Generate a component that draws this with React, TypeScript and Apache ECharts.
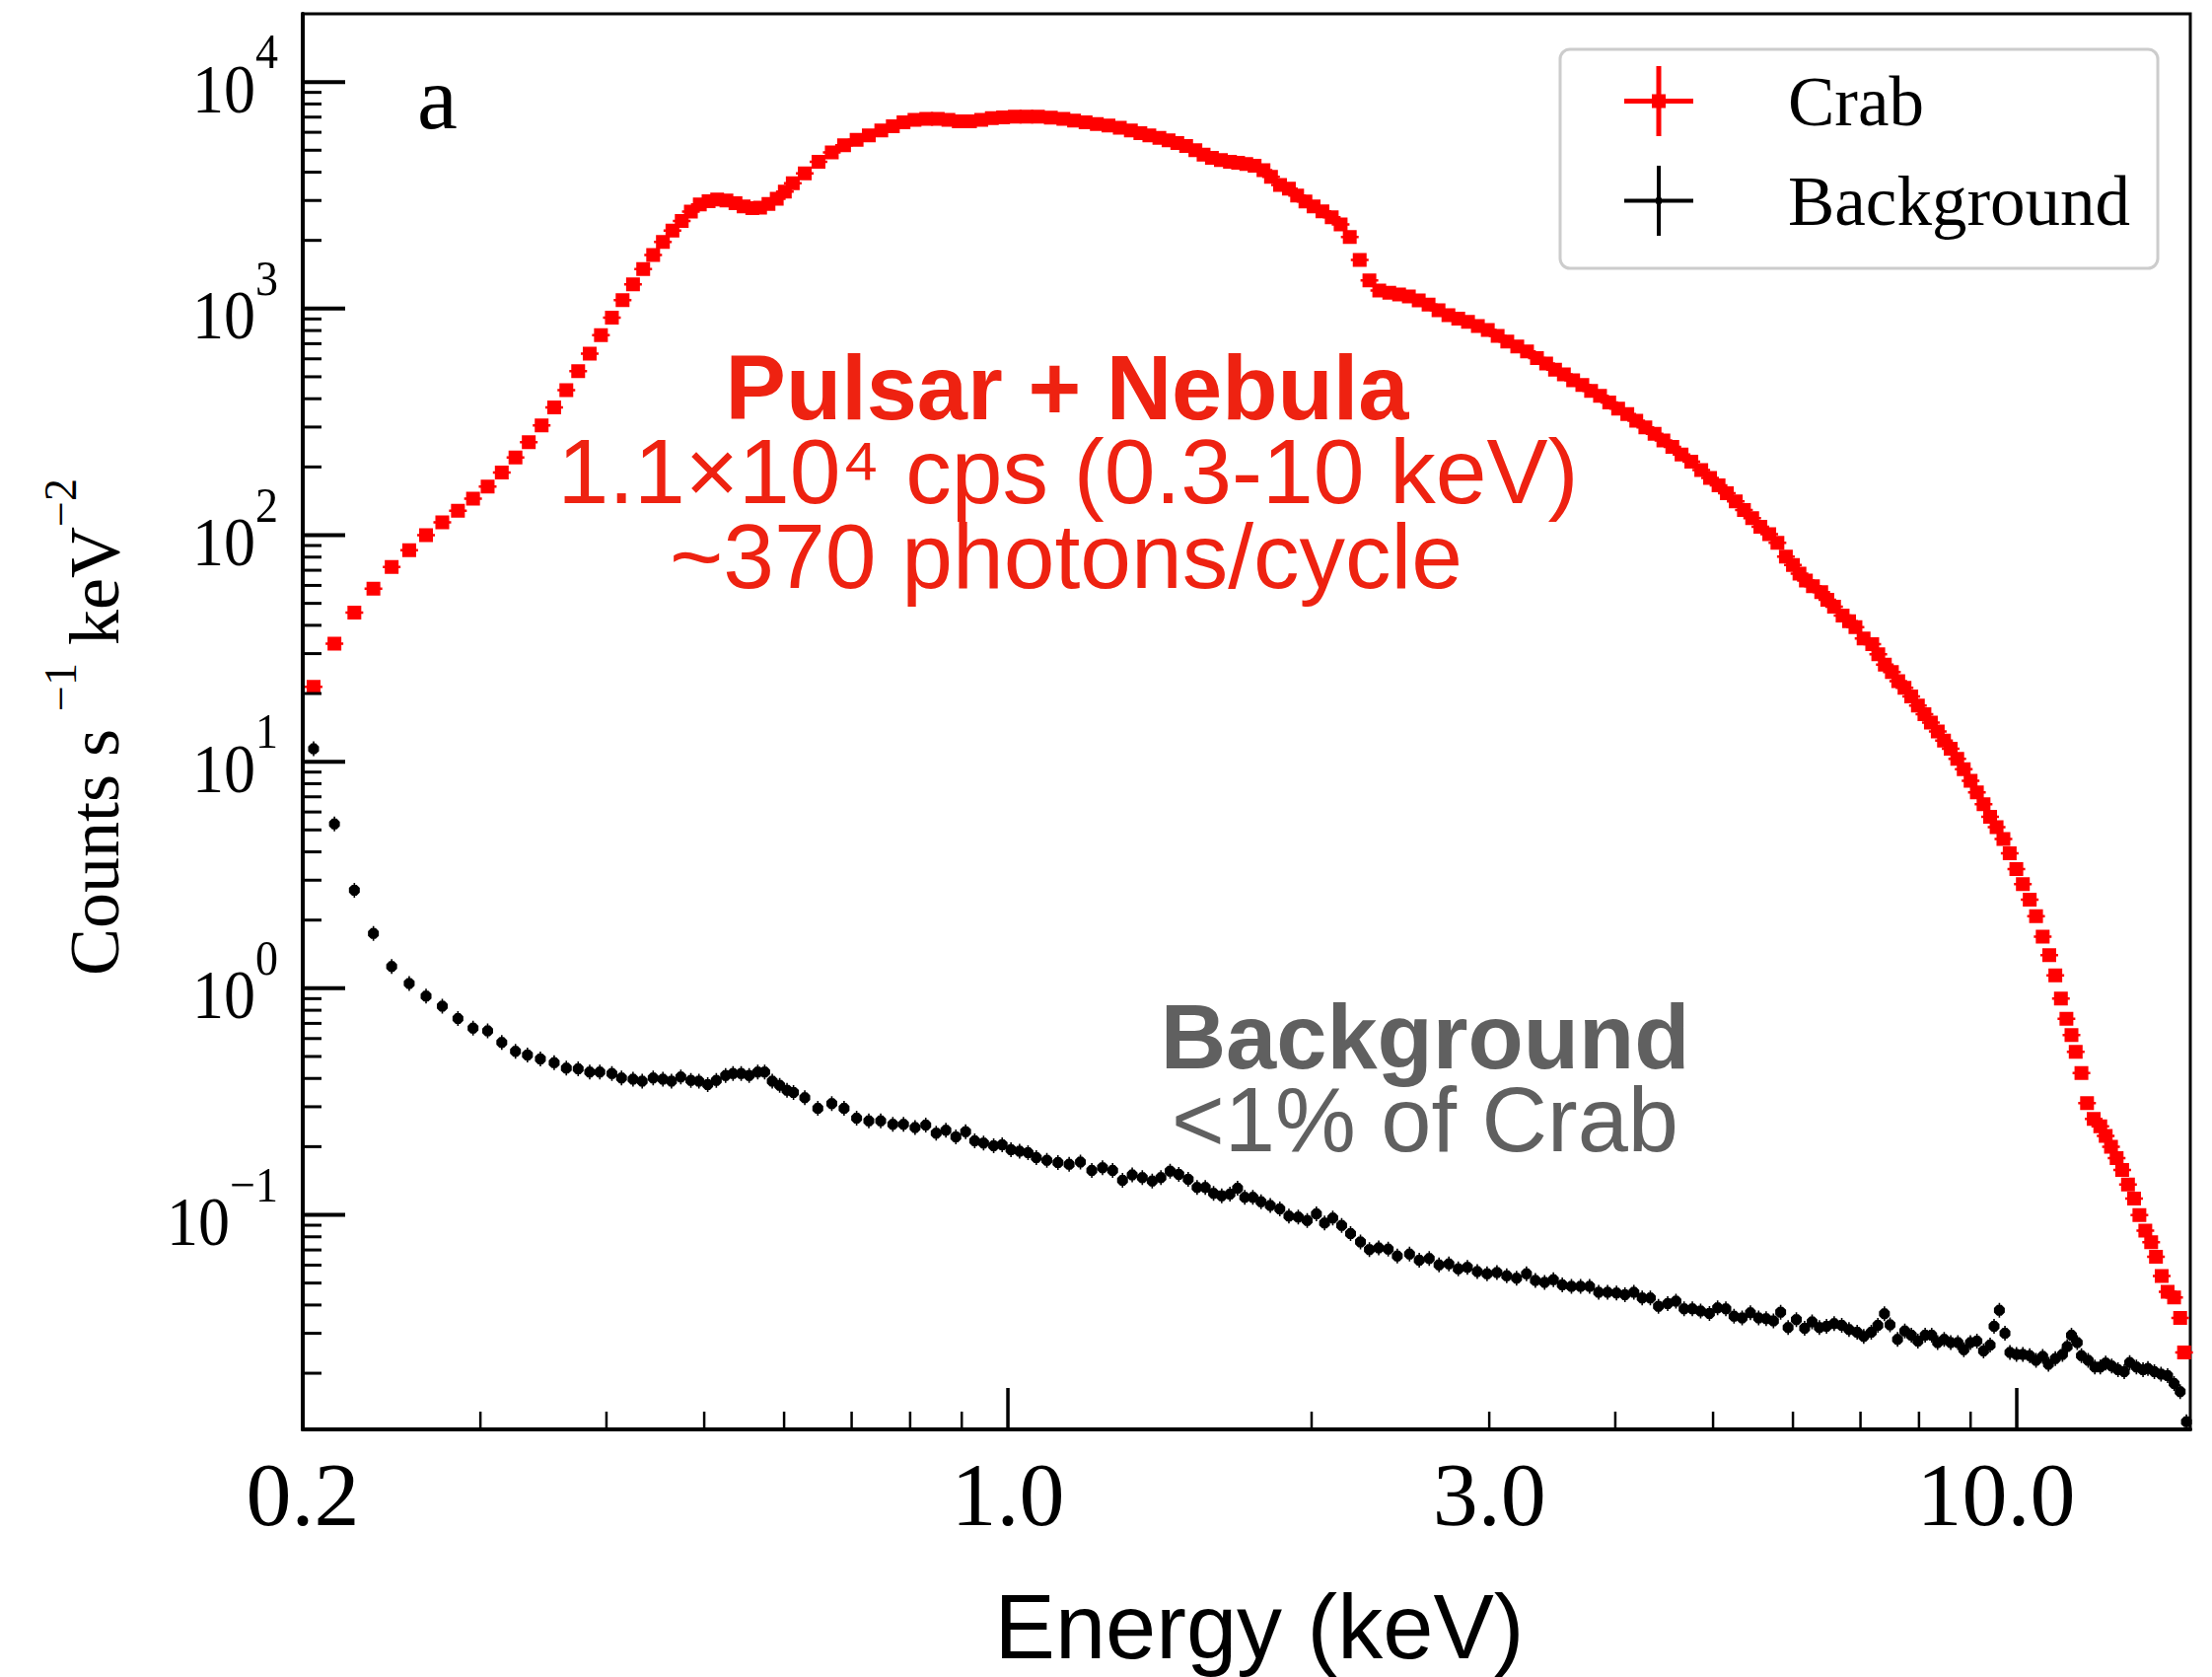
import React, { useEffect, useRef } from 'react';
import * as echarts from 'echarts';

// ---------- data ----------
const crabEnergy = [
  0.205, 0.215, 0.225, 0.235, 0.245, 0.255, 0.265, 0.275, 0.285, 0.295,
  0.305, 0.315, 0.325, 0.335, 0.345, 0.355, 0.365, 0.375, 0.385, 0.395,
  0.405, 0.415, 0.425, 0.435, 0.445, 0.455, 0.465, 0.475, 0.485, 0.495,
  0.505, 0.515, 0.526, 0.537, 0.547, 0.558, 0.568, 0.579, 0.590, 0.601,
  0.612, 0.629, 0.649, 0.669, 0.688, 0.708, 0.728, 0.749, 0.769, 0.788,
  0.808, 0.830, 0.852, 0.873, 0.894, 0.917, 0.941, 0.964, 0.989, 1.016,
  1.043, 1.071, 1.103, 1.135, 1.163, 1.194, 1.225, 1.258, 1.291, 1.324,
  1.353, 1.381, 1.413, 1.443, 1.472, 1.502, 1.534, 1.563, 1.593, 1.626,
  1.660, 1.691, 1.723, 1.756, 1.792, 1.823, 1.861,
  1.899, 1.935, 1.972, 2.009, 2.050, 2.094, 2.137, 2.182, 2.232, 2.282,
  2.334, 2.388, 2.442, 2.497, 2.554, 2.612, 2.672, 2.733, 2.795, 2.858,
  2.923, 2.990, 3.058, 3.126, 3.198, 3.270, 3.345, 3.416, 3.486, 3.557,
  3.633, 3.710, 3.785, 3.863, 3.945, 4.026, 4.111, 4.196, 4.284, 4.375,
  4.464, 4.556, 4.653, 4.758, 4.867, 4.966, 5.063, 5.160, 5.266, 5.365,
  5.467, 5.570, 5.684, 5.791,
  5.904, 6.00, 6.09, 6.18, 6.28, 6.40, 6.49, 6.59, 6.72, 6.82,
  6.92, 7.05, 7.19, 7.29, 7.40, 7.52, 7.63, 7.74, 7.86, 7.98,
  8.10, 8.22, 8.35, 8.47, 8.60, 8.73, 8.86, 9.00, 9.13, 9.27,
  9.41, 9.55, 9.70, 9.84, 9.99, 10.14, 10.30, 10.45, 10.61, 10.77,
  10.92, 11.06, 11.20, 11.33, 11.44, 11.59, 11.74, 11.92, 12.10, 12.25,
  12.40, 12.56, 12.72, 12.89, 13.07, 13.23, 13.41, 13.59, 13.74, 13.92,
  14.11, 14.32, 14.52, 14.65,
];
const crabCounts = [
  21.4, 33.2, 45.5, 58, 72.4, 85.8, 100, 114, 128, 145,
  164, 189, 220, 257, 305, 366, 437, 529, 632, 764,
  912, 1090, 1280, 1493, 1722, 1968, 2208, 2438, 2680, 2878,
  2979, 3027, 3000, 2918, 2825, 2775, 2792, 2897, 3055, 3281,
  3573, 3954, 4449, 4888, 5255, 5560, 5806, 6109, 6380, 6646,
  6806, 6873, 6873, 6806, 6708, 6708, 6806, 6920, 6985, 7025,
  7040, 7025, 6966, 6873, 6761, 6646, 6530, 6420, 6280, 6109,
  5946, 5806, 5675, 5523, 5378, 5220, 5000, 4786, 4627, 4520,
  4449, 4400, 4345, 4266, 4087, 3820, 3515,
  3380, 3150, 2970, 2826, 2687, 2529, 2350, 2069, 1638, 1330,
  1203, 1175, 1155, 1132, 1088, 1041, 983, 935, 904, 874,
  837, 804, 757, 716, 681, 647, 605, 572, 538, 512,
  483, 460, 433, 412, 385, 362, 342, 320, 299, 280,
  262, 245, 227, 211, 194, 179, 166, 153, 141, 129,
  119, 109, 101, 92.5,
  80.5, 73.9, 67.7, 63.0, 59.5, 56.1, 51.9, 48.3, 44.2, 41.7,
  39.3, 35.0, 33.0, 29.8, 26.8, 24.9, 22.7, 21.2, 19.4, 17.7,
  16.2, 14.9, 13.6, 12.4, 11.4, 10.3, 9.27, 8.24, 7.33, 6.50,
  5.71, 5.14, 4.56, 3.94, 3.36, 2.88, 2.46, 2.08, 1.69, 1.40,
  1.14, 0.90, 0.733, 0.621, 0.524, 0.423, 0.311, 0.265, 0.246, 0.223,
  0.200, 0.178, 0.158, 0.136, 0.118, 0.0998, 0.0851, 0.0757, 0.0653, 0.0537,
  0.0458, 0.0432, 0.0351, 0.0247,
];

const bgEnergy = [
  0.205, 0.215, 0.225, 0.235, 0.245, 0.255, 0.265, 0.275, 0.285, 0.295,
  0.305, 0.315, 0.325, 0.334, 0.344, 0.355, 0.365, 0.375, 0.385, 0.394,
  0.405, 0.414, 0.425, 0.434, 0.445, 0.455, 0.464, 0.474, 0.485, 0.494,
  0.504, 0.514, 0.525, 0.534, 0.544, 0.554, 0.565, 0.574, 0.584, 0.594,
  0.604, 0.613, 0.629, 0.648, 0.669, 0.688, 0.708, 0.728, 0.748, 0.769,
  0.788, 0.809,
  0.829, 0.849, 0.868, 0.888, 0.908, 0.927, 0.946, 0.968, 0.987, 1.007,
  1.027, 1.047, 1.067, 1.093, 1.121, 1.150, 1.180, 1.211, 1.241, 1.270,
  1.299, 1.328, 1.359, 1.390, 1.418, 1.448, 1.477, 1.509, 1.540, 1.569,
  1.599, 1.629, 1.660, 1.689, 1.717, 1.749, 1.782, 1.820, 1.860, 1.899,
  1.940, 1.980, 2.022, 2.060, 2.099, 2.142, 2.186, 2.236, 2.282, 2.331,
  2.382, 2.432,
  2.501, 2.557, 2.616, 2.675, 2.736, 2.795, 2.854, 2.919, 2.985, 3.053,
  3.122, 3.193, 3.266, 3.333, 3.404, 3.473, 3.544, 3.619, 3.695, 3.772,
  3.851, 3.930, 4.011, 4.089, 4.173, 4.253, 4.333, 4.414, 4.508, 4.594,
  4.680, 4.769, 4.860, 4.959, 5.052, 5.148, 5.245, 5.343, 5.445, 5.548,
  5.644, 5.739, 5.834, 5.934,
  6.047, 6.162, 6.268, 6.373, 6.478, 6.592, 6.707, 6.819, 6.947, 7.052,
  7.174, 7.283, 7.393, 7.488, 7.618, 7.745, 7.862, 7.980, 8.113, 8.235,
  8.347, 8.473, 8.601, 8.743, 8.862, 8.996, 9.131, 9.270, 9.410, 9.495,
  9.611, 9.734, 9.845, 9.993, 10.14, 10.30, 10.45, 10.61, 10.75, 10.92,
  11.10, 11.22, 11.33, 11.48, 11.59, 11.77, 11.95, 12.10, 12.25, 12.42,
  12.60, 12.78, 12.94, 13.14, 13.34, 13.49, 13.69, 13.90, 14.11, 14.32,
  14.52, 14.73,
];
const bgCounts = [
  11.4, 5.31, 2.71, 1.744, 1.248, 1.051, 0.923, 0.834, 0.735, 0.667,
  0.649, 0.577, 0.527, 0.508, 0.488, 0.469, 0.444, 0.441, 0.427, 0.427,
  0.420, 0.402, 0.397, 0.389, 0.402, 0.397, 0.389, 0.406, 0.392, 0.389,
  0.376, 0.392, 0.412, 0.420, 0.420, 0.412, 0.427, 0.427, 0.389, 0.373,
  0.355, 0.347, 0.329, 0.295, 0.310, 0.295, 0.267, 0.260, 0.260, 0.251,
  0.251, 0.243,
  0.249, 0.2295, 0.236, 0.221, 0.233, 0.212, 0.2075, 0.202, 0.204, 0.194,
  0.191, 0.188, 0.179, 0.174, 0.170, 0.167, 0.171, 0.157, 0.1616, 0.157,
  0.142, 0.150, 0.146, 0.141, 0.146, 0.156, 0.151, 0.1436, 0.132, 0.132,
  0.1244, 0.1214, 0.1235, 0.131, 0.1195, 0.1195, 0.1143, 0.1099, 0.1062, 0.0987,
  0.0977, 0.0944, 0.1009, 0.092, 0.0968, 0.0898, 0.0826, 0.076, 0.0703, 0.0715,
  0.0706, 0.0658,
  0.0671, 0.0631, 0.0642, 0.0601, 0.0607, 0.0577, 0.0587, 0.0562, 0.0549, 0.0557,
  0.0538, 0.0525, 0.0549, 0.0513, 0.0503, 0.0517, 0.0491, 0.0483, 0.0483, 0.0483,
  0.0455, 0.0455, 0.0452, 0.0444, 0.0455, 0.0430, 0.0430, 0.0395, 0.0406, 0.0416,
  0.0385, 0.0385, 0.0376, 0.0367, 0.0389, 0.0385, 0.0357, 0.0351, 0.0370, 0.0351,
  0.0348, 0.0340, 0.0372, 0.0318,
  0.0345, 0.0316, 0.0337, 0.0318, 0.0322, 0.0331, 0.0325, 0.0312, 0.0303, 0.0291,
  0.0303, 0.0325, 0.0366, 0.0327, 0.0282, 0.0307, 0.0294, 0.0277, 0.0294, 0.0294,
  0.0273, 0.0282, 0.0273, 0.0273, 0.0254, 0.0273, 0.0277, 0.0251, 0.0266, 0.0322,
  0.0379, 0.0300, 0.0247, 0.0242, 0.0242, 0.0239, 0.0228, 0.0237, 0.0219, 0.0232,
  0.0242, 0.0262, 0.0294, 0.0273, 0.0239, 0.0228, 0.0213, 0.0213, 0.0222, 0.0215,
  0.0207, 0.0203, 0.0223, 0.0213, 0.0207, 0.0210, 0.0203, 0.0198, 0.0195, 0.0180,
  0.0166, 0.0122,
];

const xMajorTicks = [1, 10];
const xMinorTicks = [0.3, 0.4, 0.5, 0.6, 0.7, 0.8, 0.9, 2, 3, 4, 5, 6, 7, 8, 9];
const yMajorTicks = [0.1, 1, 10, 100, 1000, 10000];
const yMinorTicks = [
  0.02, 0.03, 0.04, 0.05, 0.06, 0.07, 0.08, 0.09,
  0.2, 0.3, 0.4, 0.5, 0.6, 0.7, 0.8, 0.9,
  2, 3, 4, 5, 6, 7, 8, 9,
  20, 30, 40, 50, 60, 70, 80, 90,
  200, 300, 400, 500, 600, 700, 800, 900,
  2000, 3000, 4000, 5000, 6000, 7000, 8000, 9000,
];
const xLabelValues = [0.2, 1, 3, 10];
const xLabelTexts = ['0.2', '1.0', '3.0', '10.0'];
const yLabelValues = [0.1, 1, 10, 100, 1000, 10000];
const yLabelExps = ['−1', '0', '1', '2', '3', '4'];

const X_MIN = 0.2;
const X_MAX = 14.86;
const Y_MIN = 0.0113;
const Y_MAX = 20000;

// ---------- styles ----------
const SERIF = 'Liberation Serif';
const SANS = 'Liberation Sans';
const TEXT_RED = '#ee2211';
const TEXT_GREY = '#606060';

const CRAB_SYMBOL = 'path://M2,0H16V14H2Z M0,5.75H18V8.25H0Z';
const BG_SYMBOL = 'path://M3.2,2L7.8,2L11,5.2L11,9.8L7.8,13L3.2,13L0,9.8L0,5.2Z M4.7,0H6.3V15H4.7Z';
const CRAB_ICON = 'path://M32.5,0H37.5V71H32.5Z M0,33H70V38H0Z M28,28.5H42V42.5H28Z';
const BG_ICON = 'path://M33,0H37V71H33Z M0,33.5H70V37.5H0Z M32,32.5H38V38.5H32Z';

function buildOption() {
  const tickData = [
    ...xMinorTicks.map((v) => [v, Y_MIN, 0]),
    ...xMajorTicks.map((v) => [v, Y_MIN, 1]),
    ...yMinorTicks.map((v) => [X_MIN, v, 2]),
    ...yMajorTicks.map((v) => [X_MIN, v, 3]),
  ];
  const labelData = [
    ...xLabelValues.map((v, i) => [v, Y_MIN, 0, i]),
    ...yLabelValues.map((v, i) => [X_MIN, v, 1, i]),
  ];

  const renderTick = (params: any, api: any) => {
    const kind = api.value(2);
    const p = api.coord([api.value(0), api.value(1)]);
    if (kind <= 1) {
      const len = kind === 1 ? 42 : 18;
      return {
        type: 'line',
        shape: { x1: p[0], y1: p[1], x2: p[0], y2: p[1] - len },
        style: { stroke: '#000', lineWidth: kind === 1 ? 3.5 : 2.5 },
      };
    }
    const len = kind === 3 ? 43 : 19;
    return {
      type: 'line',
      shape: { x1: p[0], y1: p[1], x2: p[0] + len, y2: p[1] },
      style: { stroke: '#000', lineWidth: kind === 3 ? 4 : 3 },
    };
  };

  const renderLabel = (params: any, api: any) => {
    const kind = api.value(2);
    const idx = api.value(3);
    const p = api.coord([api.value(0), api.value(1)]);
    if (kind === 0) {
      const dx = idx === xLabelTexts.length - 1 ? -21 : 0;
      return {
        type: 'text',
        x: p[0] + dx,
        y: p[1] + 66,
        style: {
          text: xLabelTexts[idx],
          fontSize: 92,
          fontFamily: SERIF,
          fill: '#000',
          lineHeight: 80,
          align: 'center',
          verticalAlign: 'middle',
          textAlign: 'center',
          textVerticalAlign: 'middle',
        },
      };
    }
    return {
      type: 'text',
      x: p[0] - 25,
      y: p[1] + 7,
      scaleY: 1.1,
      style: {
        text: '{b|10}{s|' + yLabelExps[idx] + '}',
        fill: '#000',
        align: 'right',
        verticalAlign: 'middle',
        textAlign: 'right',
        textVerticalAlign: 'middle',
        rich: {
          b: { fontSize: 64, fontFamily: SERIF, lineHeight: 115, verticalAlign: 'middle', fill: '#000' },
          s: { fontSize: 46, fontFamily: SERIF, lineHeight: 46, verticalAlign: 'top', fill: '#000' },
        },
      },
    };
  };

  const txt = (text: string, x: number, y: number, size: number, weight: string, color: string, family: string, align = 'center') => ({
    type: 'text',
    x,
    y,
    z: 50,
    silent: true,
    style: {
      text,
      fontSize: size,
      fontWeight: weight,
      fontFamily: family,
      fill: color,
      lineHeight: 62,
      align,
      verticalAlign: 'middle',
      textAlign: align,
      textVerticalAlign: 'middle',
    },
  });

  return {
    animation: false,
    backgroundColor: '#ffffff',
    grid: {
      left: 307,
      right: 22,
      top: 14,
      bottom: 250,
      show: true,
      borderColor: '#000',
      borderWidth: 3,
      backgroundColor: 'transparent',
      containLabel: false,
    },
    xAxis: {
      type: 'log',
      logBase: 10,
      min: X_MIN,
      max: X_MAX,
      name: 'Energy (keV)',
      nameLocation: 'middle',
      nameGap: 154,
      nameTextStyle: { fontSize: 92, fontFamily: SANS, color: '#000', padding: [0, 0, 0, 26] },
      axisLine: { show: true, lineStyle: { color: '#000', width: 4 } },
      axisTick: { show: false },
      axisLabel: { show: false },
      splitLine: { show: false },
      minorTick: { show: false },
    },
    yAxis: {
      type: 'log',
      logBase: 10,
      min: Y_MIN,
      max: Y_MAX,
      axisLine: { show: true, lineStyle: { color: '#000', width: 4 } },
      axisTick: { show: false },
      axisLabel: { show: false },
      splitLine: { show: false },
      minorTick: { show: false },
    },
    legend: {
      orient: 'vertical',
      left: 1582,
      top: 50,
      itemWidth: 70,
      itemHeight: 71,
      itemGap: 30,
      padding: [17, 28, 33, 65],
      borderColor: '#cccccc',
      borderWidth: 3,
      borderRadius: 10,
      backgroundColor: '#ffffff',
      selectedMode: false,
      z: 20,
      data: [
        { name: 'Crab', icon: CRAB_ICON },
        { name: 'Background', icon: BG_ICON },
      ],
      textStyle: { fontFamily: SERIF, fontSize: 71, color: '#000', padding: [0, 0, 0, 91] },
    },
    graphic: [
      {
        type: 'text',
        x: 96,
        y: 737,
        rotation: Math.PI / 2,
        silent: true,
        style: {
          text: '{m|Counts s }{s|−1}{m| keV}{s|−2}',
          fill: '#000',
          align: 'center',
          verticalAlign: 'middle',
          textAlign: 'center',
          textVerticalAlign: 'middle',
          rich: {
            m: { fontSize: 72, fontFamily: SERIF, lineHeight: 116, verticalAlign: 'middle', fill: '#000' },
            s: { fontSize: 46, fontFamily: SERIF, lineHeight: 46, verticalAlign: 'top', fill: '#000' },
          },
        },
      },
      txt('a', 423, 99, 92, 'normal', '#000', SERIF, 'left'),
      txt('Pulsar + Nebula', 1082, 393, 92, 'bold', TEXT_RED, SANS),
      txt('1.1×10⁴ cps (0.3-10 keV)', 1083, 478, 93, 'normal', TEXT_RED, SANS),
      txt('~370 photons/cycle', 1081, 564, 93, 'normal', TEXT_RED, SANS),
      txt('Background', 1445, 1051, 92, 'bold', TEXT_GREY, SANS),
      txt('<1% of Crab', 1445, 1135, 92, 'normal', TEXT_GREY, SANS),
    ],
    series: [
      {
        name: 'Background',
        type: 'scatter',
        data: bgEnergy.map((e, i) => [e, bgCounts[i]]),
        symbol: BG_SYMBOL,
        symbolSize: [11, 15],
        itemStyle: { color: '#000000', opacity: 1 },
        silent: true,
        z: 2,
      },
      {
        name: 'Crab',
        type: 'scatter',
        data: crabEnergy.map((e, i) => [e, crabCounts[i]]),
        symbol: CRAB_SYMBOL,
        symbolSize: [18, 14],
        itemStyle: { color: '#ff0000', opacity: 1 },
        silent: true,
        z: 3,
      },
      {
        name: 'ticks',
        type: 'custom',
        data: tickData,
        renderItem: renderTick,
        silent: true,
        clip: false,
        z: 6,
      },
      {
        name: 'tickLabels',
        type: 'custom',
        data: labelData,
        renderItem: renderLabel,
        silent: true,
        clip: false,
        z: 6,
      },
    ],
  };
}

export default function App() {
  const ref = useRef<HTMLDivElement>(null);
  useEffect(() => {
    if (!ref.current) return;
    const chart = echarts.init(ref.current, null, { renderer: 'svg' });
    chart.setOption(buildOption() as any);
    return () => chart.dispose();
  }, []);
  return (
    <div
      ref={ref}
      style={{ position: 'absolute', left: 0, top: 0, width: 2243, height: 1700, background: '#fff' }}
    />
  );
}
